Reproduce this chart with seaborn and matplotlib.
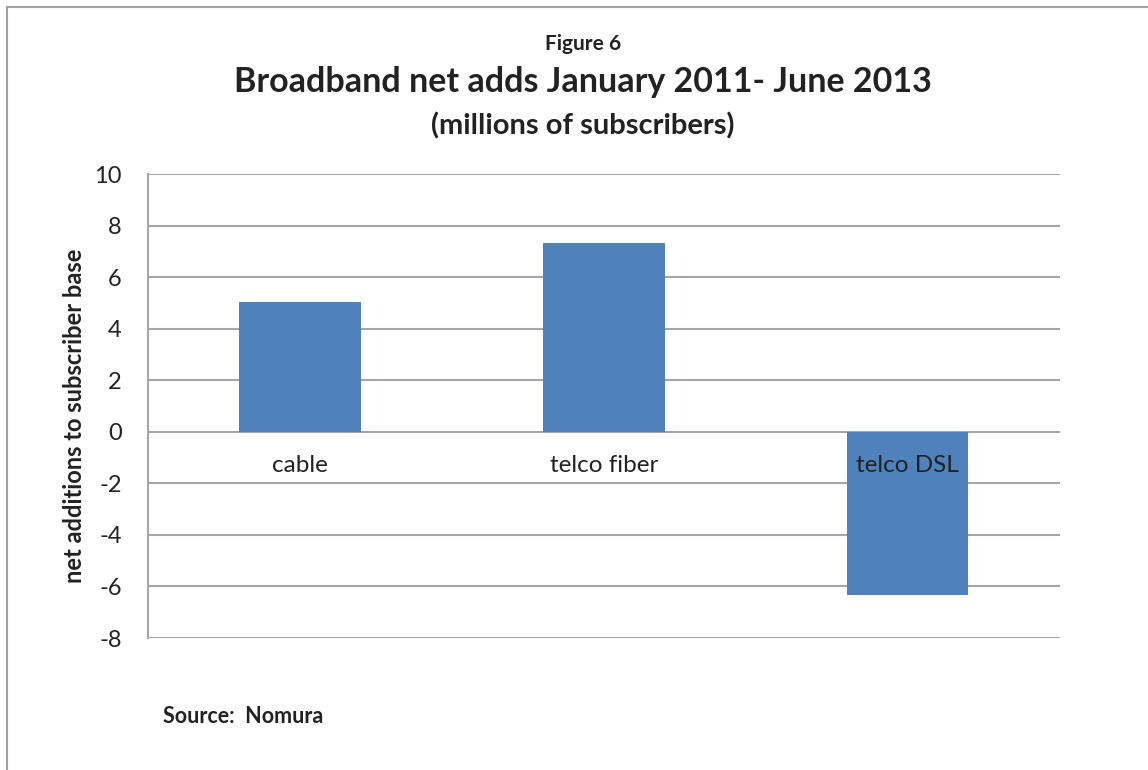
import matplotlib
matplotlib.use("Agg")
import matplotlib.pyplot as plt
import matplotlib.patches as mpatches
import pandas as pd
import seaborn as sns

# Broadband net adds Jan 2011 - Jun 2013 (millions)
categories = ["cable", "telco fiber", "telco DSL"]
net_adds = [5.05, 7.33, -6.35]
yticks = [-8, -6, -4, -2, 0, 2, 4, 6, 8, 10]

df = pd.DataFrame({"type": categories, "adds": net_adds})

sns.set_theme(style="white")
plt.rcParams['font.family'] = ['Lato', 'DejaVu Sans']

fig = plt.figure(figsize=(11.48, 7.70), dpi=100)
ax = fig.add_axes([0.129, 0.1714, 0.794, 0.6026])

sns.barplot(x="type", y="adds", data=df, color="#4F81BD", width=0.4,
            saturation=1, linewidth=0, ax=ax)

grid_col = "#A6A6A6"
ax.set_ylim(-8, 10)
ax.set_yticks(yticks)
ax.set_yticklabels([str(t) for t in yticks], fontsize=17, color="#222222")
ax.yaxis.grid(True, color=grid_col, linewidth=1.5)
ax.set_axisbelow(True)
ax.xaxis.set_zorder(5)  # category labels sit on top of the DSL bar
for s in ["top", "right"]:
    ax.spines[s].set_visible(False)
ax.spines["left"].set_color(grid_col)
ax.spines["left"].set_linewidth(1.5)
ax.spines["bottom"].set_position(("data", 0))
ax.spines["bottom"].set_visible(False)
ax.tick_params(axis="y", length=0, pad=19)
ax.tick_params(axis="x", length=0, labelsize=17.5, labelcolor="#222222", pad=17)
ax.set_xlabel("")
ax.set_ylabel("net additions to subscriber base", fontsize=17, fontweight="bold",
              color="#222222", va="center")
ax.yaxis.set_label_coords(-0.081, 0.478)

fig.text(0.508, 0.943, "Figure 6", ha="center", va="center", fontsize=15,
         fontweight="bold", color="#222222")
fig.text(0.508, 0.894, "Broadband net adds January 2011- June 2013", ha="center",
         va="center", fontsize=24.5, fontweight="bold", color="#222222")
fig.text(0.508, 0.836, "(millions of subscribers)", ha="center", va="center",
         fontsize=21, fontweight="bold", color="#222222")
fig.text(0.142, 0.07, "Source:  Nomura", ha="left", va="center", fontsize=15.5,
         fontweight="bold", color="#222222")

# outer frame
fig.patches.append(mpatches.Rectangle((0.0065, -0.1), 1.2, 1.091, transform=fig.transFigure,
                                      fill=False, edgecolor="#A0A0A0", linewidth=1.5))

fig.savefig("out.png", dpi=100)
